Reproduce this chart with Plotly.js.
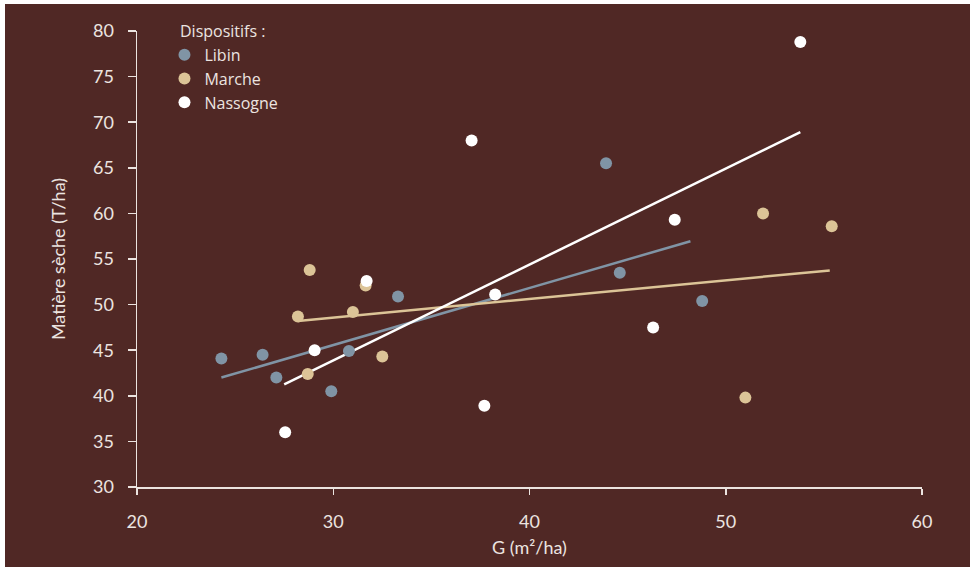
<!DOCTYPE html>
<html><head><meta charset="utf-8">
<script src="https://cdn.plot.ly/plotly-3.0.1.min.js"></script>
<style>
html,body{margin:0;padding:0;background:#ffffff;}
#chart{position:absolute;left:5px;top:4px;width:965px;height:563px;}
</style></head>
<body><div id="chart"></div>
<script>
// Data
const libinG = [24.3, 26.4, 27.1, 29.9, 30.8, 33.3, 43.9, 44.6, 48.8];
const libinMS = [44.1, 44.5, 42.0, 40.5, 44.9, 50.9, 65.5, 53.5, 50.4];
const marcheG = [28.8, 31.65, 28.2, 31.0, 32.5, 28.7, 51.9, 55.4, 51.0];
const marcheMS = [53.8, 52.1, 48.7, 49.2, 44.3, 42.4, 60.0, 58.6, 39.8];
const nassogneG = [31.7, 29.05, 27.55, 37.7, 38.25, 37.05, 47.4, 46.3, 53.8];
const nassogneMS = [52.6, 45.0, 36.0, 38.9, 51.1, 68.0, 59.3, 47.5, 78.8];
// Regression line end points
const libinFitG = [24.3, 48.2];
const libinFitMS = [42.0, 56.95];
const marcheFitG = [28.2, 55.3];
const marcheFitMS = [48.2, 53.75];
const nassogneFitG = [27.5, 53.8];
const nassogneFitMS = [41.25, 68.9];
const seriesNames = ['Libin', 'Marche', 'Nassogne'];
const legendTitle = 'Dispositifs :';
const colors = ['#8094a5', '#dcc497', '#ffffff'];
const xTicks = [20, 30, 40, 50, 60];
const yTicks = [30, 35, 40, 45, 50, 55, 60, 65, 70, 75, 80];

const FONT = 'Lato, "Open Sans", sans-serif';
const LFONT = '"Open Sans", Lato, sans-serif';
const TXT = '#ece4e0';
const FS = 18;
const LFS = 16;

function fit(x, y, c) {
  return {x: x, y: y, type: 'scatter', mode: 'lines', showlegend: false, hoverinfo: 'skip',
    line: {color: c, width: 2.5}};
}
function pts(x, y, name, c) {
  return {x: x, y: y, type: 'scatter', mode: 'markers', name: name,
    marker: {color: c, size: 12, line: {width: 0}}};
}
const data = [
  fit(libinFitG, libinFitMS, colors[0]),
  fit(marcheFitG, marcheFitMS, colors[1]),
  fit(nassogneFitG, nassogneFitMS, colors[2]),
  pts(libinG, libinMS, seriesNames[0], colors[0]),
  pts(marcheG, marcheMS, seriesNames[1], colors[1]),
  pts(nassogneG, nassogneMS, seriesNames[2], colors[2])
];
const layout = {
  width: 965, height: 563,
  paper_bgcolor: '#502825', plot_bgcolor: 'rgba(0,0,0,0)',
  margin: {l: 132, r: 48, t: 27, b: 80},
  font: {family: FONT, color: TXT, size: FS},
  showlegend: true,
  legend: {x: 0.035, y: 0.985, xanchor: 'left', yanchor: 'top', bgcolor: 'rgba(0,0,0,0)',
    font: {family: LFONT, size: LFS, color: TXT}, itemsizing: 'constant', tracegroupgap: 0},
  annotations: [{text: legendTitle, xref: 'paper', yref: 'paper', x: 0.052, y: 1.0,
    xanchor: 'left', yanchor: 'middle', showarrow: false, font: {family: LFONT, size: LFS, color: TXT}}],
  xaxis: {range: [20, 60], tickvals: xTicks, ticktext: xTicks.map(String),
    showgrid: false, zeroline: false, showline: true, linecolor: TXT, linewidth: 1.5,
    ticks: 'outside', ticklen: 6, tickcolor: TXT, tickwidth: 1.5, ticklabelstandoff: 12,
    tickfont: {size: FS, color: TXT},
    title: {text: 'G (m²/ha)', font: {size: FS, color: TXT}, standoff: 10}},
  yaxis: {range: [30, 80], tickvals: yTicks, ticktext: yTicks.map(String),
    showgrid: false, zeroline: false, showline: true, linecolor: TXT, linewidth: 1.5,
    ticks: 'outside', ticklen: 8, tickcolor: TXT, tickwidth: 1.5, ticklabelstandoff: 10,
    tickfont: {size: FS, color: TXT},
    title: {text: 'Matière sèche (T/ha)', font: {size: FS, color: TXT}, standoff: 22}}
};
Plotly.newPlot('chart', data, layout, {displayModeBar: false, staticPlot: true});
</script></body></html>
